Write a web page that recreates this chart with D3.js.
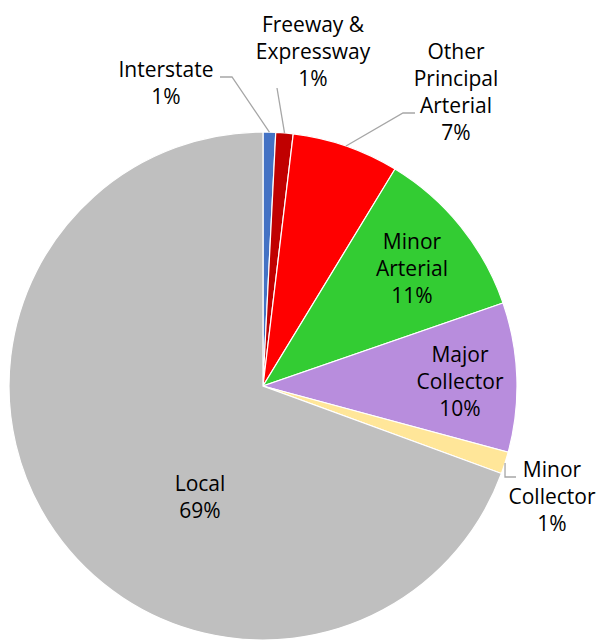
<!DOCTYPE html>
<html>
<head>
<meta charset="utf-8">
<script src="https://cdn.jsdelivr.net/npm/d3@7"></script>
<style>
  html, body { margin: 0; padding: 0; background: #fff; }
  svg { display: block; }
  text { font-family: 'Open Sans', 'Liberation Sans', Arial, sans-serif; font-size: 21px; fill: #000; }
</style>
</head>
<body>
<svg id="chart" width="598" height="640"></svg>
<script>
// Functional class share (percent of roadway)
const categories = ['Interstate', 'Freeway & Expressway', 'Other Principal Arterial', 'Minor Arterial', 'Major Collector', 'Minor Collector', 'Local'];
const values = [0.8, 1.1, 6.8, 11.0, 9.5, 1.4, 69.4];
const labelLines = [
  ['Interstate'],
  ['Freeway &', 'Expressway'],
  ['Other', 'Principal', 'Arterial'],
  ['Minor', 'Arterial'],
  ['Major', 'Collector'],
  ['Minor', 'Collector'],
  ['Local']
];

const colors = ['#4472C4', '#C00000', '#FF0000', '#33CC33', '#B88DDD', '#FFE699', '#BFBFBF'];

// label layout: center x, first line y, leader polyline (null = inside label)
const labelPos = [
  { x: 166, y: 70, leader: [[220, 77], [232, 77]] },
  { x: 313, y: 25, leader: [[277, 88]] },
  { x: 456, y: 52, leader: [[415, 113], [403, 113]] },
  { x: 412, y: 242, leader: null },
  { x: 460, y: 355, leader: null },
  { x: 552, y: 470, leader: [[516, 477], [505, 477]] },
  { x: 200, y: 484, leader: null }
];
const lineH = 27;

const cx = 263, cy = 386, radius = 254;
const svg = d3.select('#chart');
const g = svg.append('g').attr('transform', `translate(${cx},${cy})`);

const data = categories.map((c, i) => ({ name: c, value: values[i], i }));
const total = d3.sum(values);

const pie = d3.pie().value(d => d.value).sort(null);
const arc = d3.arc().innerRadius(0).outerRadius(radius);
const arcs = pie(data);

g.selectAll('path.slice')
  .data(arcs)
  .enter().append('path')
  .attr('class', 'slice')
  .attr('d', arc)
  .attr('fill', d => colors[d.data.i])
  .attr('stroke', '#fff')
  .attr('stroke-width', 1.2);

// leader lines: from label to the middle of the slice's outer edge
const edge = d3.arc().innerRadius(radius).outerRadius(radius);
arcs.forEach(d => {
  const lp = labelPos[d.data.i];
  if (!lp.leader) return;
  const [ex, ey] = edge.centroid(d);
  const pts = lp.leader.map(p => [p[0] - cx, p[1] - cy]);
  pts.push([ex, ey]);
  g.append('path')
    .attr('d', d3.line()(pts))
    .attr('fill', 'none')
    .attr('stroke', '#A6A6A6')
    .attr('stroke-width', 1.3);
});

// labels
const fmt = v => Math.round(v / total * 100) + '%';
const labels = svg.append('g');
data.forEach(d => {
  const lp = labelPos[d.i];
  const lines = labelLines[d.i].concat([fmt(d.value)]);
  const t = labels.append('text')
    .attr('text-anchor', 'middle')
    .attr('x', lp.x)
    .attr('y', lp.y);
  lines.forEach((ln, k) => {
    t.append('tspan')
      .attr('x', lp.x)
      .attr('y', lp.y + k * lineH)
      .attr('dy', '0.35em')
      .text(ln);
  });
});
</script>
</body>
</html>
